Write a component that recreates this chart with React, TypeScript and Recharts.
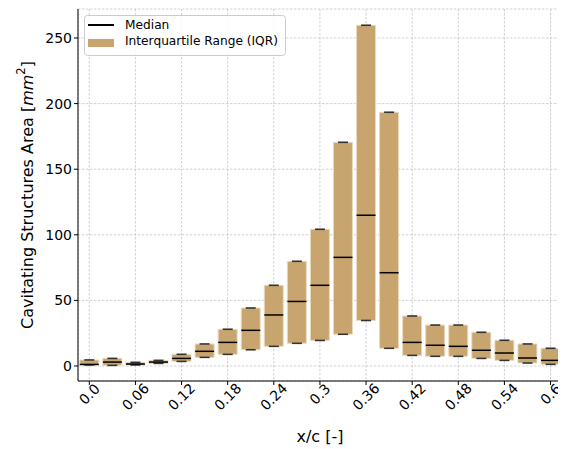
import React from 'react';
import {
  ComposedChart, Bar, Scatter, XAxis, YAxis, CartesianGrid, Legend, Label,
} from 'recharts';

const xPositions = [0, 0.03, 0.06, 0.09, 0.12, 0.15, 0.18, 0.21, 0.24, 0.27, 0.3, 0.33, 0.36, 0.39, 0.42, 0.45, 0.48, 0.51, 0.54, 0.57, 0.6];
const q1Values = [0.8, 0.5, 0.8, 2.0, 3.5, 6.6, 8.9, 12.4, 15.0, 17.3, 19.5, 24.2, 34.7, 13.5, 8.1, 7.4, 7.4, 5.8, 4.3, 2.3, 1.3];
const medianValues = [1.2, 3.0, 1.5, 3.0, 5.8, 11.2, 18.0, 27.2, 38.9, 49.2, 61.5, 82.8, 114.9, 71.1, 18.0, 15.8, 15.0, 12.0, 9.9, 6.1, 4.3];
const q3Values = [4.6, 5.8, 2.8, 4.3, 8.9, 16.8, 28.0, 44.2, 61.5, 79.8, 104.2, 170.5, 259.7, 193.4, 38.1, 31.2, 31.2, 25.7, 19.6, 16.8, 13.5];

const xTicks = [0, 0.06, 0.12, 0.18, 0.24, 0.3, 0.36, 0.42, 0.48, 0.54, 0.6];
const xTickLabels = ['0.0', '0.06', '0.12', '0.18', '0.24', '0.3', '0.36', '0.42', '0.48', '0.54', '0.6'];
const yTicks = [0, 50, 100, 150, 200, 250];

const rows = xPositions.map((x, i) => ({
  x,
  q1: q1Values[i],
  median: medianValues[i],
  q3: q3Values[i],
}));

const FILL = '#C8A46E';
const EDGE = '#EBDAC0';
const FONT = '"DejaVu Sans", sans-serif';
const X_DOMAIN: [number, number] = [-0.0147, 0.6149];
const Y_DOMAIN: [number, number] = [-11.43, 272.1];

const XTick = (props: any) => {
  const { x, y, payload } = props;
  const idx = xTicks.findIndex((t) => Math.abs(t - payload.value) < 1e-9);
  const label = idx >= 0 ? xTickLabels[idx] : String(payload.value);
  const w = label.length * 0.55 * 14;
  const h = (w + 11) * 0.7071;
  return (
    <text
      transform={`translate(${x}, ${y - 5 + h / 2}) rotate(-45)`}
      textAnchor="middle"
      dominantBaseline="central"
      fontSize={14}
      fill="#000"
      fontFamily={FONT}
    >
      {label}
    </text>
  );
};

const MedianShape = (p: any) => (
  <line x1={p.cx - 9.5} x2={p.cx + 9.5} y1={p.cy} y2={p.cy} stroke="#000" strokeWidth={1.5} />
);
const CapShape = (p: any) => (
  <line x1={p.cx - 5} x2={p.cx + 5} y1={p.cy} y2={p.cy} stroke="#333" strokeWidth={1.6} />
);

const LegendBox = () => (
  <svg width={204} height={42} style={{ display: 'block', overflow: 'visible' }}>
    <rect x={0.5} y={0.5} width={201} height={40} rx={3} fill="#fff" fillOpacity={0.8} stroke="#cccccc" />
    <line x1={4} x2={30} y1={10} y2={10} stroke="#000" strokeWidth={2} />
    <rect x={4} y={24} width={26} height={8} fill={FILL} />
    <text x={41} y={9.5} dominantBaseline="central" fontSize={12.2} fontFamily={FONT} fill="#000">Median</text>
    <text x={41} y={26} dominantBaseline="central" fontSize={12.2} fontFamily={FONT} fill="#000">Interquartile Range (IQR)</text>
  </svg>
);

export default function App() {
  return (
    <div style={{ fontFamily: FONT }}>
      <ComposedChart
        width={558}
        height={441}
        data={rows}
        margin={{ top: 1, right: 4, bottom: 0, left: 0 }}
      >
        <CartesianGrid stroke="#bdbdbd" strokeDasharray="2.5 1.5" strokeWidth={0.7} />
        <XAxis
          dataKey="x"
          type="number"
          domain={X_DOMAIN}
          allowDataOverflow
          ticks={xTicks}
          interval={0}
          height={68}
          stroke="#000"
          tickSize={4}
          tick={<XTick />}
        >
          <Label
            content={(lp: any) => {
              const vb = lp.viewBox;
              return (
                <text x={vb.x + vb.width / 2} y={428} textAnchor="middle" dominantBaseline="central" fontSize={16} fontFamily={FONT} fill="#000">
                  x/c [-]
                </text>
              );
            }}
          />
        </XAxis>
        <XAxis xAxisId="top" orientation="top" type="number" domain={X_DOMAIN} allowDataOverflow height={0} tick={false} tickLine={false} stroke="#000" />
        <YAxis
          type="number"
          domain={Y_DOMAIN}
          allowDataOverflow
          ticks={yTicks}
          interval={0}
          width={70}
          stroke="#000"
          tickSize={4}
          tick={{ fontSize: 14, fill: '#000', fontFamily: FONT }}
        >
          <Label
            content={(lp: any) => {
              const vb = lp.viewBox;
              const cy = vb.y + vb.height / 2;
              return (
                <text transform={`translate(19, ${cy}) rotate(-90)`} textAnchor="middle" dominantBaseline="central" fontSize={16} fontFamily={FONT} fill="#000">
                  <tspan>Cavitating Structures Area [</tspan>
                  <tspan fontStyle="italic">mm</tspan>
                  <tspan dy={-6} fontSize={11.5}>2</tspan>
                  <tspan dy={6}>]</tspan>
                </text>
              );
            }}
          />
        </YAxis>
        <YAxis yAxisId="right" orientation="right" type="number" domain={Y_DOMAIN} allowDataOverflow width={0} tick={false} tickLine={false} stroke="#000" />
        <Bar
          dataKey={(d: any) => [d.q1, d.q3]}
          barSize={19}
          fill={FILL}
          stroke={EDGE}
          strokeWidth={1}
          isAnimationActive={false}
        />
        <Scatter dataKey="q1" shape={CapShape} isAnimationActive={false} />
        <Scatter dataKey="q3" shape={CapShape} isAnimationActive={false} />
        <Scatter dataKey="median" shape={MedianShape} isAnimationActive={false} />
        <Legend
          layout="vertical"
          align="center"
          verticalAlign="middle"
          wrapperStyle={{ left: 76, top: 7, width: 204, height: 42 }}
          content={() => <LegendBox />}
        />
      </ComposedChart>
    </div>
  );
}
